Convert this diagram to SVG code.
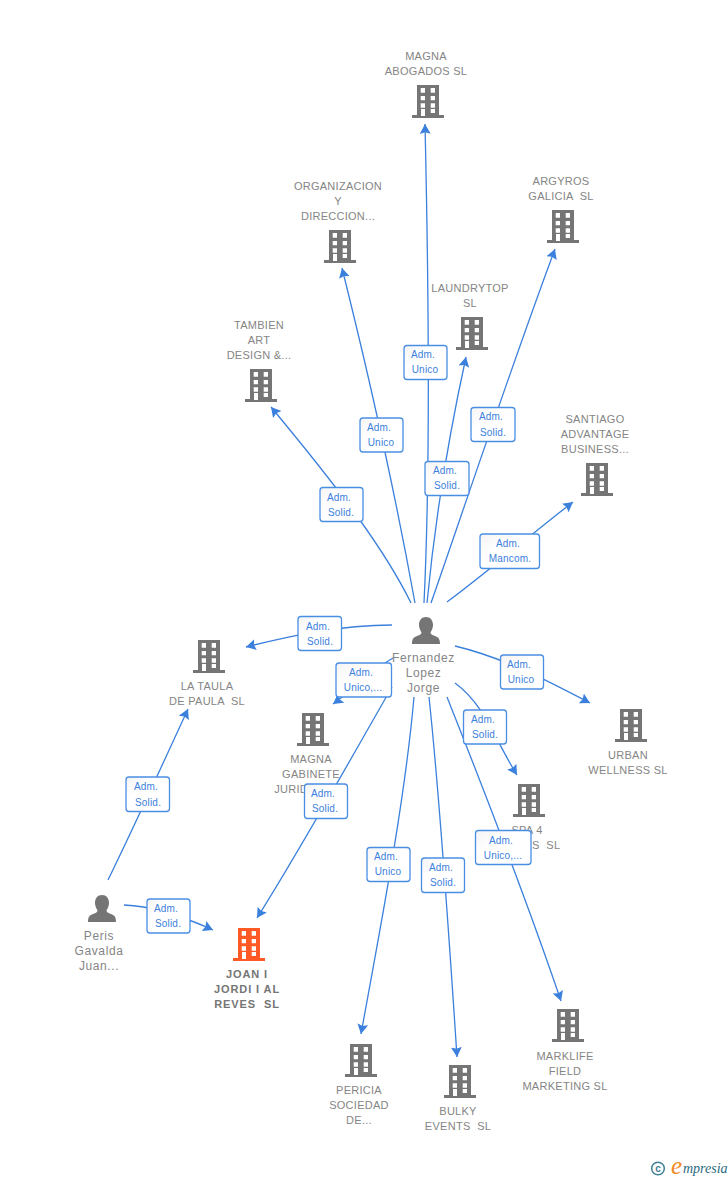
<svg xmlns="http://www.w3.org/2000/svg" width="728" height="1180" viewBox="0 0 728 1180">
<style>
text{font-family:"Liberation Sans",Arial,sans-serif;white-space:pre}
.n{font-size:11px;fill:#858585;text-anchor:middle;letter-spacing:.27px}
.f{font-size:12px;letter-spacing:.6px}
.b{font-weight:bold;fill:#757575;letter-spacing:.9px}
.l{font-size:10px;fill:#3b80dd;text-anchor:middle;letter-spacing:.2px}
.c{fill:none;stroke:#3b80dd;stroke-width:1.3;marker-end:url(#a)}
.r{fill:url(#g);stroke:#4a8ee4;stroke-width:1.3}
</style>
<defs>
<linearGradient id="g" x1="0" y1="0" x2="1" y2="1"><stop offset="0" stop-color="#f4f4f4"/><stop offset=".35" stop-color="#fff"/></linearGradient>
<marker id="a" markerUnits="userSpaceOnUse" markerWidth="12" markerHeight="12" refX="9" refY="5" orient="auto" viewBox="0 0 11 10"><path d="M0 0L9 5L0 10L1.500 5Z" fill="#3b80dd"/></marker>
<path id="bld" fill-rule="evenodd" d="M-11 0H11V30H16V33H-16V30H-11ZM-7.3 3V7.7H-3V3ZM2.7 3V7.7H7V3ZM-7.3 11V15.3H-3V11ZM2.7 11V15.3H7V11ZM-7.3 18.3V22.7H-3V18.3ZM2.7 18.3V22.7H7V18.3ZM-7 24V31H-3V24ZM2.7 24V28H7V24Z"/>
<path id="per" d="M0 0C4.500 0 7 3.500 7 8C7 11.500 5.500 13.500 4.500 15.500C4.500 17 6 18 9 19C12 20 14 21.500 14 27H-14C-14 21.500 -12 20 -9 19C-6 18 -4.500 17 -4.500 15.500C-5.500 13.500 -7 11.500 -7 8C-7 3.500 -4.500 0 0 0Z" fill="#757575"/>
</defs>
<g id="connectors">
<path class="c" d="M424 603C430 480 429 300 425 124"/>
<path class="c" d="M415 603C400 520 375 400 342 268"/>
<path class="c" d="M427 603C435 520 450 430 466 357"/>
<path class="c" d="M431 603C460 520 510 370 555 249"/>
<path class="c" d="M411 603C385 550 340 490 271 407"/>
<path class="c" d="M447 602C490 570 530 535 573 502"/>
<path class="c" d="M392 625C340 625 290 636 246 647"/>
<path class="c" d="M393 658C375 668 355 688 333 704"/>
<path class="c" d="M392 687C350 760 300 850 257 918"/>
<path class="c" d="M455 646C505 658 550 682 590 703"/>
<path class="c" d="M455 683C485 705 495 740 517 775"/>
<path class="c" d="M447 697C480 780 530 910 561 1001"/>
<path class="c" d="M429 697C440 800 450 950 457 1057"/>
<path class="c" d="M414 697C405 800 380 930 361 1034"/>
<path class="c" d="M108 880C130 835 160 770 188 709"/>
<path class="c" d="M124 905C150 906 180 915 213 930"/>
</g>
<g id="n1"><use href="#bld" x="428" y="85" fill="#757575"/><text class="n" x="426" y="60">MAGNA</text><text class="n" x="426" y="75">ABOGADOS SL</text></g>
<g id="n2"><use href="#bld" x="340" y="230" fill="#757575"/><text class="n" x="338" y="190">ORGANIZACION</text><text class="n" x="338" y="205">Y</text><text class="n" x="338" y="220">DIRECCION...</text></g>
<g id="n3"><use href="#bld" x="563" y="210" fill="#757575"/><text class="n" x="561" y="185">ARGYROS</text><text class="n" x="561" y="200">GALICIA  SL</text></g>
<g id="n4"><use href="#bld" x="472" y="317" fill="#757575"/><text class="n" x="470" y="292">LAUNDRYTOP</text><text class="n" x="470" y="307">SL</text></g>
<g id="n5"><use href="#bld" x="261" y="369" fill="#757575"/><text class="n" x="259" y="329">TAMBIEN</text><text class="n" x="259" y="344">ART</text><text class="n" x="259" y="359">DESIGN &amp;...</text></g>
<g id="n6"><use href="#bld" x="597" y="463" fill="#757575"/><text class="n" x="595" y="423">SANTIAGO</text><text class="n" x="595" y="438">ADVANTAGE</text><text class="n" x="595" y="453">BUSINESS...</text></g>
<g id="n7"><use href="#bld" x="209" y="640" fill="#757575"/><text class="n" x="207" y="690">LA TAULA</text><text class="n" x="207" y="705">DE PAULA  SL</text></g>
<g id="n8"><use href="#bld" x="631" y="709" fill="#757575"/><text class="n" x="628" y="759">URBAN</text><text class="n" x="628" y="774">WELLNESS SL</text></g>
<g id="n9"><use href="#bld" x="313" y="713" fill="#757575"/><text class="n" x="311" y="763">MAGNA</text><text class="n" x="311" y="778">GABINETE</text><text class="n" x="311" y="793">JURIDICO Y...</text></g>
<g id="n10"><use href="#bld" x="529" y="784" fill="#757575"/><text class="n" x="527" y="834">SPA 4</text><text class="n" x="534" y="849">LIFES  SL</text></g>
<g id="n11"><use href="#bld" x="249" y="928" fill="#ff5a26"/><text class="n b" x="247" y="978">JOAN I</text><text class="n b" x="247" y="993">JORDI I AL</text><text class="n b" x="247" y="1008">REVES  SL</text></g>
<g id="n12"><use href="#bld" x="361" y="1044" fill="#757575"/><text class="n" x="359" y="1094">PERICIA</text><text class="n" x="359" y="1109">SOCIEDAD</text><text class="n" x="359" y="1124">DE...</text></g>
<g id="n13"><use href="#bld" x="460" y="1065" fill="#757575"/><text class="n" x="458" y="1115">BULKY</text><text class="n" x="458" y="1130">EVENTS  SL</text></g>
<g id="n14"><use href="#bld" x="568" y="1009" fill="#757575"/><text class="n" x="565" y="1060">MARKLIFE</text><text class="n" x="565" y="1075">FIELD</text><text class="n" x="565" y="1090">MARKETING SL</text></g>
<g id="p1"><use href="#per" x="426" y="617"/><text class="n f" x="423.500" y="662">Fernandez</text><text class="n f" x="423.500" y="677">Lopez</text><text class="n f" x="423.500" y="692">Jorge</text></g>
<g id="p2"><use href="#per" x="102" y="895"/><text class="n f" x="99" y="940">Peris</text><text class="n f" x="99" y="955">Gavalda</text><text class="n f" x="99" y="970">Juan...</text></g>
<g id="labels">
<rect class="r" x="404" y="345.500" width="43" height="34" rx="3"/><text class="l" x="423" y="358">Adm.</text><text class="l" x="425" y="373">Unico</text>
<rect class="r" x="360" y="418" width="43" height="34" rx="3"/><text class="l" x="379" y="431">Adm.</text><text class="l" x="381" y="446">Unico</text>
<rect class="r" x="425" y="461.500" width="44" height="34" rx="3"/><text class="l" x="445" y="474">Adm.</text><text class="l" x="447" y="489">Solid.</text>
<rect class="r" x="471" y="407.500" width="44" height="34" rx="3"/><text class="l" x="491" y="420">Adm.</text><text class="l" x="493" y="436">Solid.</text>
<rect class="r" x="320" y="487.500" width="43" height="34" rx="3"/><text class="l" x="339" y="501">Adm.</text><text class="l" x="341" y="516">Solid.</text>
<rect class="r" x="480" y="534" width="59.500" height="34.500" rx="3"/><text class="l" x="508" y="547">Adm.</text><text class="l" x="510" y="562">Mancom.</text>
<rect class="r" x="298" y="616.500" width="43.500" height="34" rx="3"/><text class="l" x="318" y="630">Adm.</text><text class="l" x="320" y="645">Solid.</text>
<rect class="r" x="336" y="663" width="55.500" height="34" rx="3"/><text class="l" x="361" y="676">Adm.</text><text class="l" x="363" y="691">Unico,...</text>
<rect class="r" x="500.500" y="655" width="43" height="34" rx="3"/><text class="l" x="519" y="668">Adm.</text><text class="l" x="521" y="683">Unico</text>
<rect class="r" x="463.500" y="710" width="43" height="34" rx="3"/><text class="l" x="483" y="723">Adm.</text><text class="l" x="485" y="738">Solid.</text>
<rect class="r" x="304.500" y="784" width="43" height="34.500" rx="3"/><text class="l" x="323" y="797">Adm.</text><text class="l" x="325" y="812">Solid.</text>
<rect class="r" x="367" y="847.500" width="43" height="34" rx="3"/><text class="l" x="386" y="860">Adm.</text><text class="l" x="388" y="875">Unico</text>
<rect class="r" x="421.500" y="858" width="43" height="34.500" rx="3"/><text class="l" x="441" y="871">Adm.</text><text class="l" x="443" y="886">Solid.</text>
<rect class="r" x="475.500" y="830.500" width="55.500" height="34" rx="3"/><text class="l" x="501" y="844">Adm.</text><text class="l" x="503" y="859">Unico,...</text>
<rect class="r" x="126" y="777" width="43.500" height="34.500" rx="3"/><text class="l" x="146" y="790">Adm.</text><text class="l" x="148" y="806">Solid.</text>
<rect class="r" x="147" y="899" width="43" height="34" rx="3"/><text class="l" x="166" y="912">Adm.</text><text class="l" x="168" y="927">Solid.</text>
</g>
<g id="footer">
<circle cx="658" cy="1168.500" r="6.300" fill="none" stroke="#3f7f93" stroke-width="1.500"/>
<text x="658" y="1172" font-size="10" font-weight="bold" fill="#3f7f93" text-anchor="middle">c</text>
<text x="671" y="1174" font-size="25" font-style="italic" fill="#f58a1f" style="font-family:'Liberation Serif',serif">e</text>
<text x="683" y="1173" font-size="14" font-style="italic" fill="#2a6a80" style="font-family:'Liberation Serif',serif">mpresia</text>
</g>
</svg>
